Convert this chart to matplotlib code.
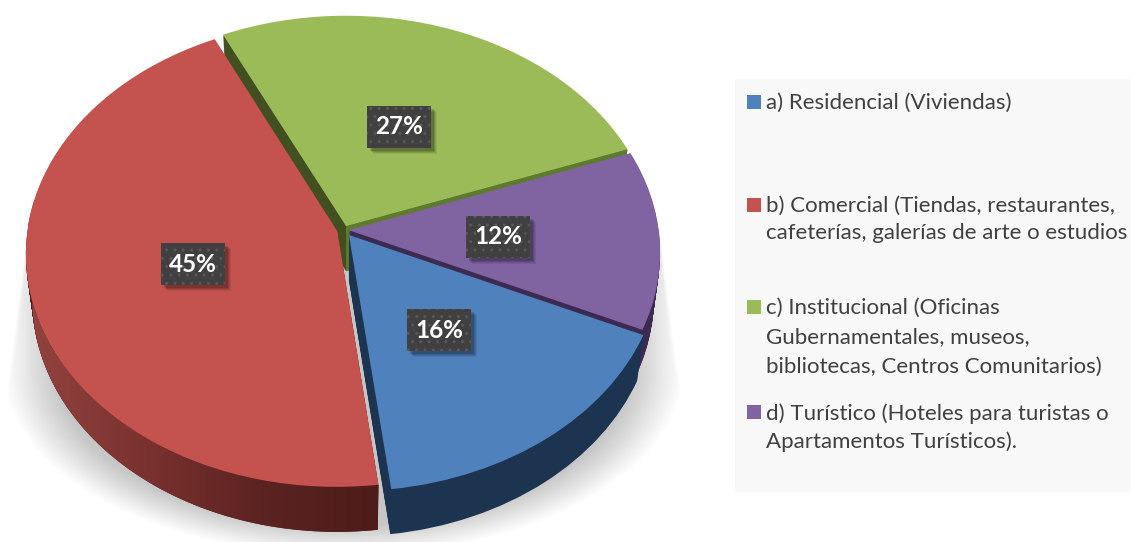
import numpy as np
import matplotlib
matplotlib.use('Agg')
from matplotlib import pyplot as plt
from matplotlib.colors import LinearSegmentedColormap
from matplotlib.patches import Polygon, Rectangle, Wedge
from matplotlib.transforms import Transform

plt.rcParams['font.family'] = ['Lato', 'DejaVu Sans']

# Datos
categorias = ['a) Residencial (Viviendas)',
              'b) Comercial (Tiendas, restaurantes,\ncafeterías, galerías de arte o estudios',
              'c) Institucional (Oficinas\nGubernamentales, museos,\nbibliotecas, Centros Comunitarios)',
              'd) Turístico (Hoteles para turistas o\nApartamentos Turísticos).']
valores = [16.25, 44.85, 26.5, 12.4]
etiquetas = ['16%', '45%', '27%', '12%']
explode = [0.027, 0.022, 0.018, 0.015]

colores = ['#4f81bd', '#c4524f', '#9bbb59', '#8064a2']
colores_pared = ['#1c3450', '#4f1c1a', '#414f21', '#3b2a52']
pos_etiquetas = [(439, 330), (193, 264), (399, 127), (498, 237)]
pos_leyenda = [102, 205, 307, 412]
interlineado = [1.5, 1.45, 1.58, 1.5]

W, H = 1131, 542
CX, CY, RX, RY, K = 344, 230, 310, 231, 0.0945
FONDO = 45


class Perspectiva(Transform):
    input_dims = 2
    output_dims = 2
    is_affine = False

    def __init__(self, prof=0):
        super().__init__()
        self.prof = prof

    def transform_non_affine(self, xy):
        xy = np.asarray(xy, dtype=float)
        w = 1 + K * xy[:, 1]
        esc = 1 - 0.02 * self.prof / FONDO
        return np.column_stack([CX + RX * esc * xy[:, 0] / w,
                                CY + self.prof - RY * xy[:, 1] / w])


fig = plt.figure(figsize=(W / 100, H / 100), dpi=100)
ax = fig.add_axes([0, 0, 1, 1])

wedges, _ = ax.pie(valores, explode=explode, startangle=-24.5, counterclock=False, colors=colores)
for w in wedges:
    w.set_visible(False)

ax.set_aspect('auto')
ax.set_xlim(0, W)
ax.set_ylim(H, 0)
ax.axis('off')

# Sombra
yy, xx = np.mgrid[0:H, 0:W]
dx = np.abs(xx - 343.0)
ancho = np.interp(yy, [228, 390], [316, 337])
suave = np.interp(yy, [228, 390], [2, 26])
a_lado = np.clip((ancho - dx) / suave, 0, 1)
elipse = np.sqrt((dx / 340.0) ** 2 + (np.clip(yy - 370.0, 0, None) / 185.0) ** 2)
a_elipse = np.clip((1 - elipse) / 0.16, 0, 1)
alfa = np.minimum(a_lado, a_elipse) * (yy > 228)
sombra = np.zeros((H, W, 4))
sombra[..., :3] = 0.78
sombra[..., 3] = alfa
ax.imshow(sombra, extent=(0, W, H, 0), aspect='auto', zorder=1)

# Panel de la leyenda
ax.add_patch(Rectangle((735, 79), W - 735, 413, facecolor='#f8f8f8', edgecolor='none', zorder=1))


def arco(w, t, n=120):
    th = np.radians(np.linspace(w.theta1, w.theta2, n))
    pts = np.column_stack([w.center[0] + w.r * np.cos(th), w.center[1] + w.r * np.sin(th)])
    return t.transform_non_affine(pts)


z = 2
for i in [2, 3, 1, 0]:
    w = wedges[i]
    for prof in np.arange(FONDO, 0, -1.0):
        p = Wedge(w.center, w.r, w.theta1, w.theta2, facecolor=colores_pared[i], edgecolor='none', zorder=z)
        p.set_transform(Perspectiva(prof) + ax.transData)
        ax.add_patch(p)
    z += 1

    # Pared clara del verde, degradado del rojo
    if i == 2:
        borde = np.array([[w.center[0], w.center[1]],
                          [w.center[0] + w.r * np.cos(np.radians(w.theta1)),
                           w.center[1] + w.r * np.sin(np.radians(w.theta1))]])
        a, b = Perspectiva(0).transform_non_affine(borde), Perspectiva(FONDO).transform_non_affine(borde)
        ax.add_patch(Polygon(np.vstack([a, b[::-1]]), facecolor='#5e7a2d', edgecolor='none', zorder=z))
        z += 1
    if i == 1:
        pared = np.vstack([arco(w, Perspectiva(0)), arco(w, Perspectiva(FONDO))[::-1]])
        clip = Polygon(pared, facecolor='none', edgecolor='none', transform=ax.transData)
        ax.add_patch(clip)
        cmap = LinearSegmentedColormap.from_list('pared', ['#93433f', '#7a322f', '#5b2321', '#4e1c1a'])
        im = ax.imshow(np.linspace(0, 1, 256).reshape(1, -1), cmap=cmap, extent=(28, 380, H, 200),
                       aspect='auto', zorder=z)
        im.set_clip_path(clip)
        z += 1

    p = Wedge(w.center, w.r, w.theta1, w.theta2, facecolor=colores[i], edgecolor='none', zorder=z)
    p.set_transform(Perspectiva(0) + ax.transData)
    ax.add_patch(p)
    z += 1

ax.set_xlim(0, W)
ax.set_ylim(H, 0)

# Etiquetas
for (x, y), txt in zip(pos_etiquetas, etiquetas):
    for d, al in [(6, 0.07), (5, 0.09), (4, 0.12), (3, 0.15)]:
        ax.add_patch(Rectangle((x - 32 + d, y - 21 + d), 64, 42, facecolor='black', edgecolor='none', alpha=al,
                               zorder=z))
    ax.add_patch(Rectangle((x - 32, y - 21), 64, 42, facecolor='#404040', edgecolor='#585858', linewidth=0,
                           hatch='..', zorder=z + 1))
    ax.text(x, y, txt, color='white', fontsize=17.5, fontweight='bold', ha='center', va='center', zorder=z + 2)

# Leyenda
for i, (y, txt) in enumerate(zip(pos_leyenda, categorias)):
    ax.add_patch(Rectangle((747, y - 7), 14, 14, facecolor=colores[i], edgecolor='none', zorder=2))
    ax.text(766, y - 9, txt, color='#404040', fontsize=16, ha='left', va='top', linespacing=interlineado[i], zorder=2)

fig.savefig('out.png', dpi=100)
